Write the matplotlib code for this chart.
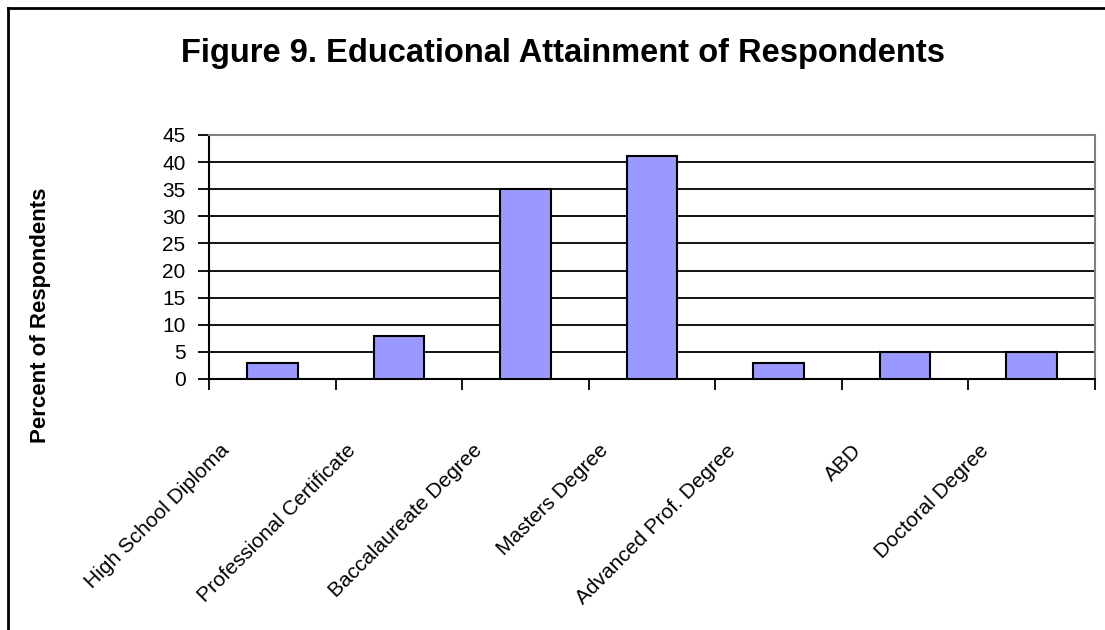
import numpy as np
import matplotlib
matplotlib.use("Agg")
import matplotlib.pyplot as plt
from matplotlib.lines import Line2D
from matplotlib.transforms import ScaledTranslation

# data
categories = ["High School Diploma", "Professional Certificate", "Baccalaureate Degree",
              "Masters Degree", "Advanced Prof. Degree", "ABD", "Doctoral Degree"]
percent = [3, 8, 35, 41.2, 3, 5, 5]
yticks = [0, 5, 10, 15, 20, 25, 30, 35, 40, 45]

plt.rcParams['font.family'] = ['Liberation Sans', 'DejaVu Sans']

fig = plt.figure(figsize=(11.05, 6.3), dpi=100)
ax = fig.add_axes([209/1105, 1 - 379/630, (1095 - 209)/1105, (379 - 135)/630])

x = np.arange(len(categories))
ax.bar(x, percent, width=0.4, color='#9999FF', edgecolor='black', linewidth=1.5, zorder=3)

ax.set_xlim(-0.5, len(categories) - 0.5)
ax.set_ylim(0, 45)
ax.set_yticks(yticks)
ax.tick_params(axis='y', labelsize=15, length=8, width=1.3, direction='out', pad=9)
ax.yaxis.grid(True, color='black', linewidth=1.3, zorder=0)
ax.set_axisbelow(True)

# category labels, rotated
ax.set_xticks(x)
ax.set_xticklabels(categories, rotation=45, ha='right', va='top', rotation_mode='anchor', fontsize=15)
ax.tick_params(axis='x', which='major', length=0, pad=0)
offset = ScaledTranslation(-0.53, -0.62, fig.dpi_scale_trans)
for lab in ax.get_xticklabels():
    lab.set_transform(lab.get_transform() + offset)
# ticks between categories
ax.set_xticks(np.arange(-0.5, len(categories), 1.0), minor=True)
ax.tick_params(axis='x', which='minor', length=8, width=1.3, direction='out')

for s in ['left', 'bottom']:
    ax.spines[s].set_color('black')
    ax.spines[s].set_linewidth(1.5)
for s in ['top', 'right']:
    ax.spines[s].set_color('#808080')
    ax.spines[s].set_linewidth(1.5)

ax.set_ylabel('Percent of Respondents', fontsize=16, fontweight='bold', labelpad=0)
ax.yaxis.set_label_coords(51/1105, 0.5, transform=fig.transFigure)
fig.text(563/1105, 1 - 62/630, 'Figure 9. Educational Attainment of Respondents',
         fontsize=23.5, fontweight='bold', ha='center', va='baseline')

# outer chart border (left and top edges visible)
bx, by = 8/1105, 1 - 8/630
fig.add_artist(Line2D([bx, bx], [0, by], color='black', linewidth=2, transform=fig.transFigure))
fig.add_artist(Line2D([bx, 1], [by, by], color='black', linewidth=2, transform=fig.transFigure))

fig.savefig('out.png', dpi=100)
